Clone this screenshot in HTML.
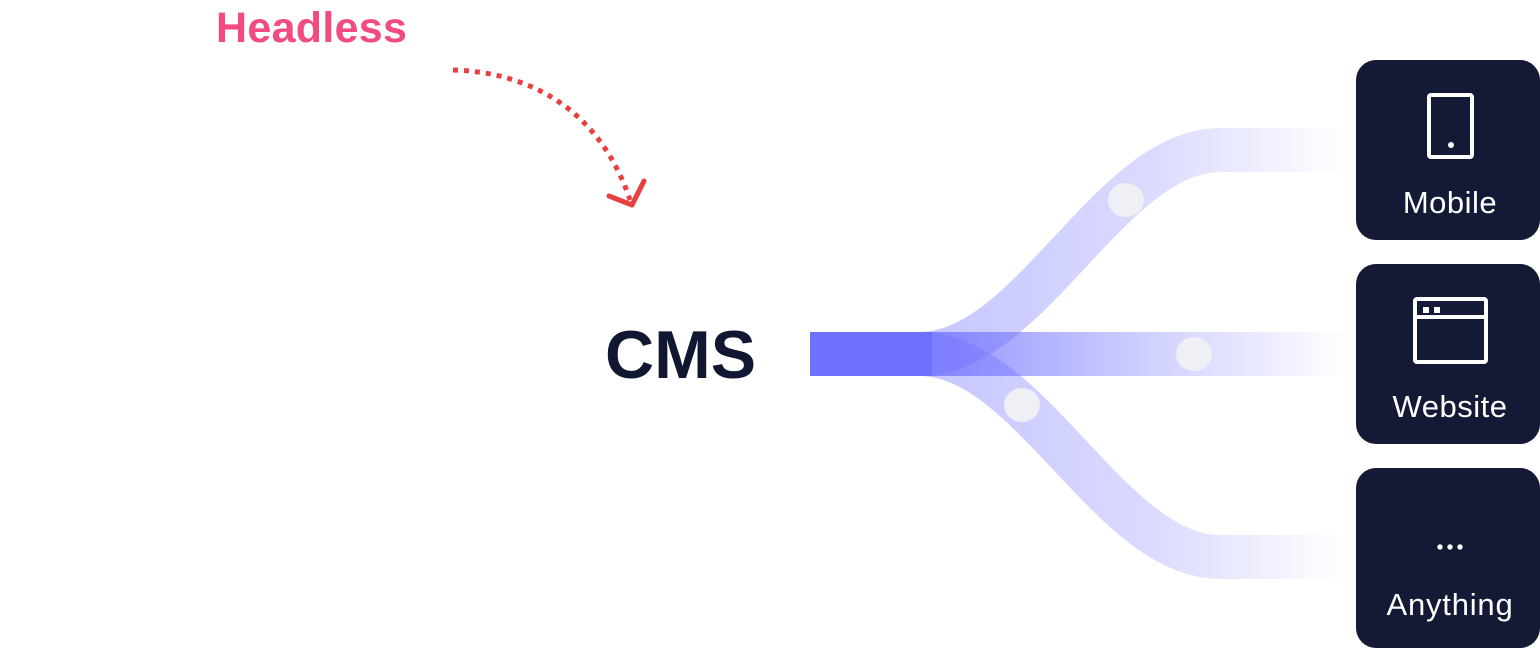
<!DOCTYPE html>
<html><head><meta charset="utf-8"><style>
html,body{margin:0;padding:0;background:#fff;}
body{width:1540px;height:651px;overflow:hidden;position:relative;font-family:"Liberation Sans",sans-serif;}
</style></head><body>
<svg width="1540" height="651" viewBox="0 0 1540 651" xmlns="http://www.w3.org/2000/svg" style="position:absolute;left:0;top:0">
<defs>
<linearGradient id="fadeU" gradientUnits="userSpaceOnUse" x1="930" y1="0" x2="1345" y2="0">
<stop offset="0" stop-color="#7070ff" stop-opacity="0.4"/>
<stop offset="0.55" stop-color="#7070ff" stop-opacity="0.25"/>
<stop offset="1" stop-color="#7070ff" stop-opacity="0"/>
</linearGradient>
<linearGradient id="fadeM" gradientUnits="userSpaceOnUse" x1="930" y1="0" x2="1345" y2="0">
<stop offset="0" stop-color="#7070ff" stop-opacity="0.75"/>
<stop offset="0.5" stop-color="#7070ff" stop-opacity="0.35"/>
<stop offset="1" stop-color="#7070ff" stop-opacity="0"/>
</linearGradient>
</defs>
<text x="216" y="42" font-family="Liberation Sans, sans-serif" font-weight="bold" font-size="43" fill="#f24b7f" letter-spacing="0.3">Headless</text>
<text x="605" y="378" font-family="Liberation Sans, sans-serif" font-weight="bold" font-size="68" fill="#111631">CMS</text>
<path d="M453 70 C 530 72, 600 110, 630 200" fill="none" stroke="#e84040" stroke-width="5" stroke-dasharray="5 6"/>
<path d="M609 196 L632 205 L644 181" fill="none" stroke="#e84040" stroke-width="5" stroke-linecap="round" stroke-linejoin="round"/>
<path d="M920 354 C 1030 354, 1110 150, 1220 150 L1345 150" fill="none" stroke="url(#fadeU)" stroke-width="44"/>
<path d="M920 354 C 1030 354, 1110 557, 1220 557 L1345 557" fill="none" stroke="url(#fadeU)" stroke-width="44"/>
<rect x="930" y="332" width="415" height="44" fill="url(#fadeM)"/>
<rect x="810" y="332" width="122" height="44" fill="#7070ff"/>
<ellipse cx="1126" cy="200" rx="18" ry="17" fill="#eff0f5"/>
<ellipse cx="1194" cy="354" rx="18" ry="17" fill="#eff0f5"/>
<ellipse cx="1022" cy="405" rx="18" ry="17" fill="#eff0f5"/>
<rect x="1356" y="60" width="184" height="180" rx="20" fill="#141a36"/>
<rect x="1356" y="264" width="184" height="180" rx="20" fill="#141a36"/>
<rect x="1356" y="468" width="184" height="180" rx="20" fill="#141a36"/>
<rect x="1429" y="95" width="43" height="62" rx="2" fill="none" stroke="#fff" stroke-width="4"/>
<circle cx="1451" cy="145" r="3" fill="#fff"/>
<rect x="1415" y="299" width="71" height="63" rx="2" fill="none" stroke="#fff" stroke-width="4"/>
<line x1="1415" y1="317" x2="1486" y2="317" stroke="#fff" stroke-width="4"/>
<rect x="1423" y="307" width="6" height="6" fill="#fff"/>
<rect x="1434" y="307" width="6" height="6" fill="#fff"/>
<circle cx="1440" cy="547" r="2.7" fill="#fff"/>
<circle cx="1450" cy="547" r="2.7" fill="#fff"/>
<circle cx="1460" cy="547" r="2.7" fill="#fff"/>
<g font-family="Liberation Sans, sans-serif" font-size="31" fill="#fff" text-anchor="middle">
<text x="1450" y="213" letter-spacing="0.5">Mobile</text>
<text x="1450" y="417" letter-spacing="0.5">Website</text>
<text x="1450" y="615" letter-spacing="0.8">Anything</text>
</g>
</svg>
</body></html>
